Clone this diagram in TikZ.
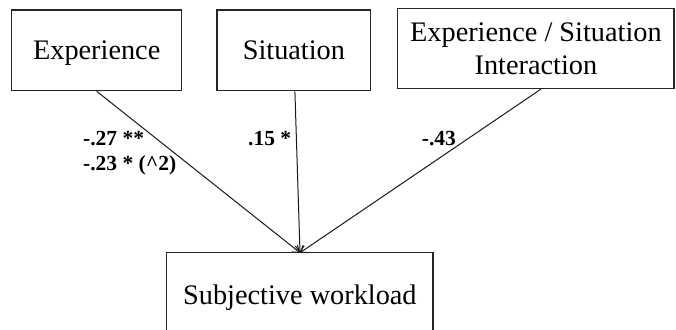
\documentclass[tikz,border=0pt]{standalone}
\usepackage{fontspec}
\setmainfont{Liberation Serif}
\usetikzlibrary{arrows.meta}
\begin{document}
\begin{tikzpicture}[x=1pt,y=-1pt,
  varbox/.style={draw=black!85, line width=1.3pt, inner sep=0pt, font=\fontsize{28.3}{33}\selectfont, text height=19pt, text depth=0pt},
  coef/.style={anchor=base west, inner sep=0pt, font=\fontsize{21.5}{25}\selectfont\bfseries},
  path/.style={draw=black!90, line width=1pt, -{Straight Barb[length=6pt,width=9pt]}}]
\useasboundingbox (0,0) rectangle (676,329);
\node[varbox, minimum width=170pt, minimum height=80.7pt] (exp) at (96.7,50.3) {Experience};
\node[varbox, minimum width=153.7pt, minimum height=80.7pt] (sit) at (293.9,50.3) {Situation};
\node[varbox, minimum width=276.3pt, minimum height=80pt, align=center, text height=52pt, yshift=1.5pt] (int) at (535.9,50) {Experience / Situation\\Interaction};
\node[varbox, minimum width=266.3pt, minimum height=83.6pt] (sw) at (299.9,294.5) {Subjective workload};
\coordinate (tip) at (300,252.7);
\draw[path] (exp.south) -- (tip);
\draw[path] ([xshift=1pt]sit.south) -- (tip);
\draw[path] ([xshift=5pt]int.south) -- (tip);
\node[coef] (c1) at (83,145) {-.27 **};
\node[coef] (c2) at (83,170) {-.23 * (\^{}2)};
\node[coef] (c3) at (248,145) {.15 *};
\node[coef] (c4) at (421.7,145) {-.43};
\end{tikzpicture}
\end{document}
